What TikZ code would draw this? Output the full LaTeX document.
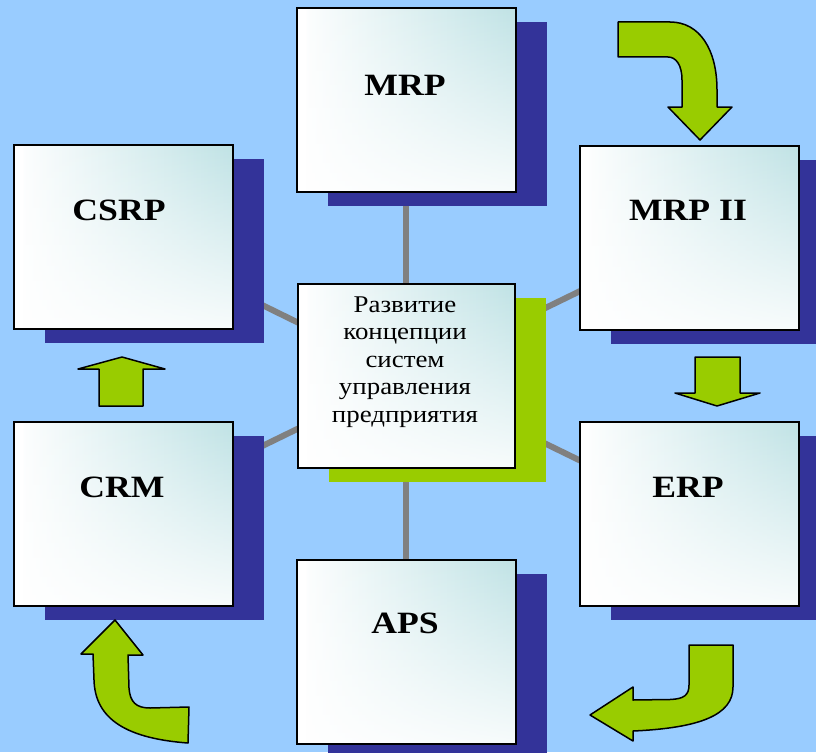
\documentclass[tikz,border=0pt]{standalone}
\usepackage{fontspec}
\setmainfont{Liberation Serif}
\usetikzlibrary{shadows,backgrounds,fadings}
\definecolor{bgblue}{HTML}{99CCFF}
\definecolor{shblue}{HTML}{333399}
\definecolor{agreen}{HTML}{99CC00}
\definecolor{lgray}{HTML}{808080}
\definecolor{teal1}{HTML}{B8DFE2}
\begin{document}
\begin{tikzpicture}[x=1pt,y=-1pt,
  panel/.style={draw=black, line width=1.6pt, fill=white,
    path picture={
      \shade[left color=white, right color=teal1]
        ([xshift=10pt]path picture bounding box.south west) rectangle ([xshift=15pt]path picture bounding box.north east);
      \fill[white, path fading=north]
        ([yshift=-25pt]path picture bounding box.south west) rectangle ([yshift=10pt]path picture bounding box.north east);},
    minimum height=184pt, anchor=north west, inner sep=0pt},
  outerbox/.style={panel, minimum width=219pt,
    general shadow={fill=shblue, shadow xshift=31pt, shadow yshift=-14pt}},
  centerbox/.style={panel, minimum width=217pt,
    general shadow={fill=agreen, shadow xshift=31pt, shadow yshift=-14pt}},
  lbl/.style={font=\bfseries\fontsize{31}{31}\selectfont, anchor=base, inner sep=0pt},
  ctxt/.style={font=\fontsize{24}{27.5}\selectfont, anchor=base, inner sep=0pt},
  conn/.style={draw=lgray, line width=6pt},
  greenarrow/.style={fill=agreen, draw=black, line width=1.5pt, line join=round}
]
\useasboundingbox (0,0) rectangle (816,752);

% boxes
\node[outerbox] (mrp)   at (296,7)   {};
\node[outerbox] (csrp)  at (13,144)  {};
\node[outerbox] (mrpii) at (579,145) {};
\node[outerbox] (crm)   at (13,421)  {};
\node[outerbox] (erp)   at (579,421) {};
\node[outerbox] (aps)   at (296,559) {};
\node[centerbox] (ctr)  at (297,283) {};

% labels
\node[lbl] (tmrp)   at (405,95)  {\scalebox{1.15}[1]{MRP}};
\node[lbl] (tcsrp)  at (119,220) {\scalebox{1.15}[1]{CSRP}};
\node[lbl] (tmrpii) at (688,220) {\scalebox{1.15}[1]{MRP II}};
\node[lbl] (tcrm)   at (122,497) {\scalebox{1.15}[1]{CRM}};
\node[lbl] (terp)   at (688,497) {\scalebox{1.15}[1]{ERP}};
\node[lbl] (taps)   at (405,633) {\scalebox{1.15}[1]{APS}};
\node[ctxt] (tctr)  at (405,312) {\scalebox{1.12}[1]{\begin{tabular}[t]{@{}c@{}}Развитие\\концепции\\систем\\управления\\предприятия\end{tabular}}};

% background and connectors
\begin{pgfonlayer}{background}
  \fill[bgblue] (0,0) rectangle (816,752);
  \draw[conn] (mrp.center)   -- (ctr.center);
  \draw[conn] (csrp.center)  -- (ctr.center);
  \draw[conn] (mrpii.center) -- (ctr.center);
  \draw[conn] (crm.center)   -- (ctr.center);
  \draw[conn] (erp.center)   -- (ctr.center);
  \draw[conn] (aps.center)   -- (ctr.center);
\end{pgfonlayer}

% arrows
\path[greenarrow] (618,22) -- (670,22) .. controls (700,22) and (717,50) .. (717,90) -- (717,107)
  -- (732,107) -- (700,140) -- (668,107) -- (682,107) -- (682,80)
  .. controls (682,65) and (676,57) .. (668,57) -- (618,57) -- cycle;
\path[greenarrow] (695,357) -- (740,357) -- (740,393) -- (760,393) -- (717,406) -- (675,393) -- (695,393) -- cycle;
\path[greenarrow] (122,357) -- (165,369) -- (143,369) -- (143,406) -- (99,406) -- (99,369) -- (78,369) -- cycle;
\path[greenarrow] (689,645) -- (733,645) -- (733,687) .. controls (733,715) and (700,728) .. (633,731)
  -- (633,741) -- (590,715) -- (633,687) -- (633,700) -- (670,699.5)
  .. controls (684,699) and (689,695) .. (689,685) -- cycle;
\path[greenarrow] (115,620) -- (143,655) -- (128,655) -- (129,688) .. controls (130,702) and (136,708) .. (150,708)
  -- (189,707) -- (188,743) .. controls (120,738) and (95,715) .. (94,680) -- (93,654) -- (81,654) -- cycle;
\end{tikzpicture}
\end{document}
